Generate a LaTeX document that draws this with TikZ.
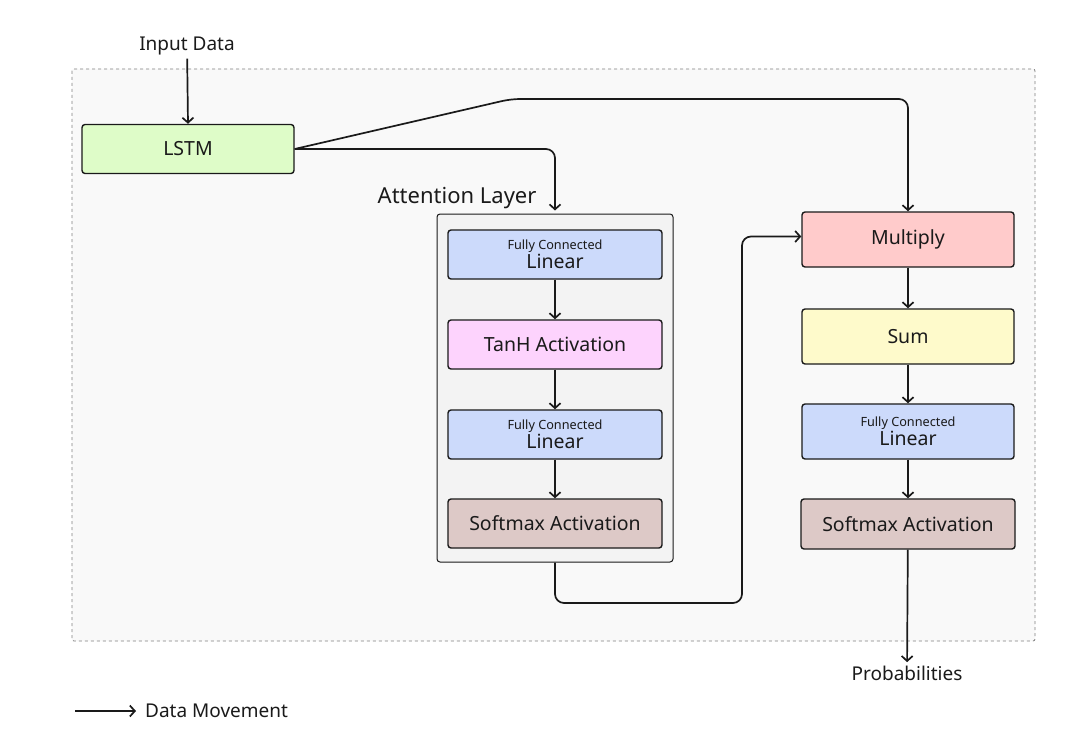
\documentclass[tikz,border=0pt]{standalone}
\usepackage{fontspec}
\setmainfont{Noto Sans}
\usepackage{tikz}
\usetikzlibrary{arrows.meta}
\definecolor{lstmgreen}{RGB}{222,252,200}
\definecolor{fcblue}{RGB}{204,218,251}
\definecolor{tanhpink}{RGB}{253,211,253}
\definecolor{softbrown}{RGB}{221,201,199}
\definecolor{mulred}{RGB}{255,203,203}
\definecolor{sumyellow}{RGB}{254,250,203}
\definecolor{groupgray}{RGB}{243,243,243}
\definecolor{bggray}{RGB}{249,249,249}
\definecolor{inkdark}{RGB}{26,26,26}
\tikzset{
  blockbox/.style={draw=inkdark, line width=1.4pt, rounded corners=3pt,
    minimum width=212pt, minimum height=49pt, align=center,
    font=\fontsize{19.5pt}{21pt}\selectfont, text=inkdark},
  flow/.style={->, line width=1.7pt, draw=inkdark, rounded corners=9pt},
  lbl/.style={font=\fontsize{19pt}{21pt}\selectfont, text=inkdark}
}
\newcommand{\fctext}{{\fontsize{12.7pt}{13pt}\selectfont Fully Connected}\\[-1.5pt]Linear}

\begin{document}
\begin{tikzpicture}[>={Straight Barb[length=5pt,width=11pt]}, x=1pt, y=-1pt]
\useasboundingbox[fill=white] (0,0) rectangle (1077,741);

% background frame
\draw[dashed, draw=gray, line width=0.8pt, fill=bggray, rounded corners=2pt] (72,69) rectangle (1035,641);

\node[lbl] (input) at (187,46) {Input Data};
\node[blockbox, fill=lstmgreen] (lstm) at (188,149) {LSTM};

% attention layer
\node[draw=inkdark, line width=1pt, fill=groupgray, rounded corners=3pt,
  minimum width=236pt, minimum height=348pt] (attn) at (555,388) {};
\node[anchor=east, font=\fontsize{22pt}{24pt}\selectfont, text=inkdark] (attnlabel) at (540,198) {Attention Layer};
\node[blockbox, fill=fcblue, minimum width=214pt] (fc1) at (555,254.5) {\fctext};
\node[blockbox, fill=tanhpink, minimum width=214pt] (tanh) at (555,344.5) {TanH Activation};
\node[blockbox, fill=fcblue, minimum width=214pt] (fc2) at (555,434.5) {\fctext};
\node[blockbox, fill=softbrown, minimum width=214pt] (soft1) at (555,523.5) {Softmax Activation};

% output branch
\node[blockbox, fill=mulred, minimum height=55pt] (mul) at (908,239.5) {Multiply};
\node[blockbox, fill=sumyellow, minimum height=55pt] (sum) at (908,336.5) {Sum};
\node[blockbox, fill=fcblue, minimum height=55pt] (fc3) at (908,431.5) {\fctext};
\node[blockbox, fill=softbrown, minimum width=214pt, minimum height=50pt] (soft2) at (908,524) {Softmax Activation};
\node[lbl] (prob) at (907,673) {Probabilities};

\coordinate (bend) at (511,99);
\coordinate (turn) at (742,603);

\draw[flow] (input) -- (lstm.north);
\draw[flow, shorten >=3pt] (lstm.east) -| (attn.north);
\draw[flow] (lstm.east) -- (bend) -| (mul.north);
\draw[flow] (fc1) -- (tanh);
\draw[flow] (tanh) -- (fc2);
\draw[flow] (fc2) -- (soft1);
\draw[flow] (attn.south) |- (turn) |- ([yshift=3pt]mul.west);
\draw[flow] (mul) -- (sum);
\draw[flow] (sum) -- (fc3);
\draw[flow] (fc3) -- (soft2);
\draw[flow] (soft2) -- (prob);

% legend
\coordinate (legA) at (75,711);
\node[lbl, anchor=west, inner sep=0pt] (legtext) at (145,711) {Data Movement};
\draw[flow, shorten >=9pt] (legA) -- (legtext.west);
\end{tikzpicture}
\end{document}
